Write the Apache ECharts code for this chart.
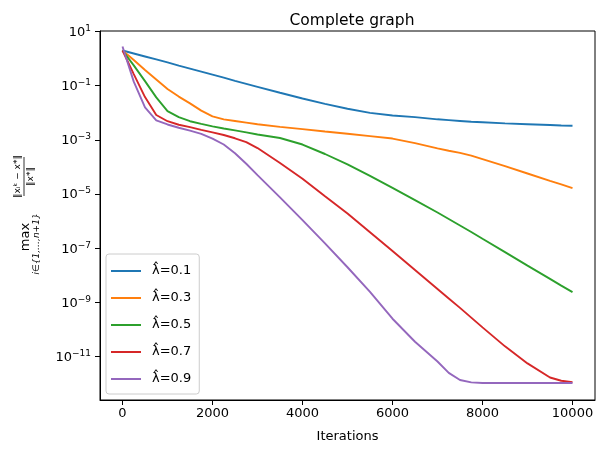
<!DOCTYPE html>
<html>
<head>
<meta charset="utf-8">
<script src="https://cdn.jsdelivr.net/npm/echarts@6/dist/echarts.min.js"></script>
<style>
html, body {margin: 0; padding: 0; background: #fff;}
#main {width: 605px; height: 453px;}
</style>
</head>
<body>
<div id="main"></div>
<script>
// x: iterations
var iterations = [0, 250, 500, 750, 1000, 1250, 1500, 1750, 2000, 2250, 2500, 2750, 3000, 3500, 4000,
    4500, 5000, 5500, 6000, 6500, 7000, 7250, 7500, 7750, 8000, 8500, 9000, 9500, 9750, 10000];
// y: log10 of the relative error
var lam01 = [0.30, 0.19, 0.08, -0.03, -0.14, -0.26, -0.37, -0.48, -0.59, -0.70, -0.82, -0.93, -1.04, -1.26, -1.47,
    -1.67, -1.85, -2.00, -2.10, -2.16, -2.24, -2.27, -2.30, -2.33, -2.35, -2.39, -2.42, -2.45, -2.47, -2.48];
var lam03 = [0.30, -0.05, -0.42, -0.77, -1.12, -1.40, -1.65, -1.92, -2.13, -2.24, -2.30, -2.36, -2.42, -2.52, -2.60,
    -2.69, -2.77, -2.86, -2.95, -3.12, -3.31, -3.40, -3.48, -3.58, -3.71, -3.97, -4.24, -4.51, -4.64, -4.78];
var lam05 = [0.30, -0.25, -0.83, -1.43, -1.94, -2.16, -2.31, -2.41, -2.50, -2.58, -2.65, -2.72, -2.80, -2.93, -3.17,
    -3.52, -3.90, -4.33, -4.77, -5.22, -5.68, -5.92, -6.16, -6.40, -6.65, -7.14, -7.64, -8.13, -8.38, -8.62];
var lam07 = [0.30, -0.57, -1.42, -2.08, -2.31, -2.44, -2.53, -2.63, -2.72, -2.82, -2.94, -3.08, -3.30, -3.85, -4.43,
    -5.08, -5.72, -6.41, -7.10, -7.80, -8.50, -8.85, -9.20, -9.56, -9.92, -10.62, -11.25, -11.77, -11.89, -11.94];
var lam09 = [0.45, -0.85, -1.80, -2.28, -2.43, -2.55, -2.66, -2.78, -2.95, -3.17, -3.49, -3.88, -4.30, -5.12, -5.96,
    -6.82, -7.70, -8.61, -9.60, -10.45, -11.18, -11.60, -11.86, -11.95, -11.97, -11.97, -11.97, -11.97, -11.97, -11.97];

var names = ['λ̂=0.1', 'λ̂=0.3', 'λ̂=0.5', 'λ̂=0.7', 'λ̂=0.9'];
var colors = ['#1f77b4', '#ff7f0e', '#2ca02c', '#d62728', '#9467bd'];
var xTicks = [0, 2000, 4000, 6000, 8000, 10000];
var yTicks = [-11, -9, -7, -5, -3, -1, 1];   // 10^n

var font = 'DejaVu Sans';
var allData = [lam01, lam03, lam05, lam07, lam09];

var series = [];
for (var s = 0; s < allData.length; s++) {
    series.push({
        name: names[s],
        type: 'line',
        showSymbol: false,
        symbol: 'none',
        silent: true,
        data: iterations.map(function (x, i) { return [x, allData[s][i]]; }),
        lineStyle: {color: colors[s], width: 1.9},
        itemStyle: {color: colors[s]}
    });
}

var chart = echarts.init(document.getElementById('main'));
var option = {
    animation: false,
    title: {
        text: 'Complete graph',
        left: 347,
        top: 8,
        textAlign: 'center',
        textStyle: {fontFamily: font, fontSize: 15.5, fontWeight: 'normal', color: '#000'}
    },
    grid: {
        left: 100, right: 10, top: 31, bottom: 53,
        show: true, borderColor: '#000', borderWidth: 1,
        outerBoundsMode: 'none'
    },
    legend: {
        orient: 'vertical',
        left: 106,
        top: 254,
        icon: 'rect',
        itemWidth: 30,
        itemHeight: 2,
        itemGap: 13,
        padding: [10, 8, 8, 5],
        backgroundColor: 'rgba(255,255,255,0.8)',
        borderColor: '#cccccc',
        borderWidth: 1,
        borderRadius: 3,
        textStyle: {fontFamily: font, fontSize: 13, color: '#000', lineHeight: 14, padding: [0, 0, 0, 6]},
        data: names
    },
    xAxis: {
        type: 'value',
        min: -500,
        max: 10500,
        name: 'Iterations',
        nameLocation: 'middle',
        nameGap: 30,
        nameTextStyle: {fontFamily: font, fontSize: 13, color: '#000'},
        axisLine: {show: true, onZero: false, lineStyle: {color: '#000', width: 1}},
        axisTick: {show: true, length: 5, customValues: xTicks, lineStyle: {color: '#000'}},
        axisLabel: {
            customValues: xTicks, margin: 7, fontFamily: font, fontSize: 13, color: '#000',
            formatter: function (v) { return String(v); }
        },
        splitLine: {show: false}
    },
    yAxis: {
        type: 'value',
        min: -12.6,
        max: 1.02,
        axisLine: {show: true, onZero: false, lineStyle: {color: '#000', width: 1}},
        axisTick: {show: true, length: 5, customValues: yTicks, lineStyle: {color: '#000'}},
        axisLabel: {
            customValues: yTicks,
            margin: 9,
            fontFamily: font,
            fontSize: 13,
            color: '#000',
            formatter: function (v) {
                var p = v < 0 ? '\u2212' + (-v) : '' + v;
                return '{b|10}{sup|' + p + '}';
            },
            rich: {
                b: {fontFamily: font, fontSize: 13, color: '#000', verticalAlign: 'bottom', lineHeight: 15},
                sup: {fontFamily: font, fontSize: 9, color: '#000', verticalAlign: 'top', lineHeight: 15}
            }
        },
        splitLine: {show: false}
    },
    graphic: [{
        type: 'group',
        x: 27,
        y: 215,
        rotation: Math.PI / 2,
        children: [
            {type: 'text', x: -22, y: -1,
             style: {text: 'max', fontFamily: font, fontSize: 13, fill: '#000', align: 'center', verticalAlign: 'middle', textAlign: 'center', textVerticalAlign: 'middle'}},
            {type: 'text', x: -29, y: 10,
             style: {text: 'i∈{1,…,n+1}', fontFamily: font, fontSize: 9, fontStyle: 'italic', fill: '#000', align: 'center', verticalAlign: 'middle', textAlign: 'center', textVerticalAlign: 'middle'}},
            {type: 'line', shape: {x1: 19, y1: -3, x2: 58, y2: -3}, style: {stroke: '#000', lineWidth: 0.8}},
            {type: 'text', x: 38.5, y: -9,
             style: {text: '‖xᵢᵏ − x*‖', fontFamily: font, fontSize: 9, fill: '#000', align: 'center', verticalAlign: 'middle', textAlign: 'center', textVerticalAlign: 'middle'}},
            {type: 'text', x: 38.5, y: 4,
             style: {text: '‖x*‖', fontFamily: font, fontSize: 9, fill: '#000', align: 'center', verticalAlign: 'middle', textAlign: 'center', textVerticalAlign: 'middle'}}
        ]
    }],
    series: series
};
chart.setOption(option);
</script>
</body>
</html>
